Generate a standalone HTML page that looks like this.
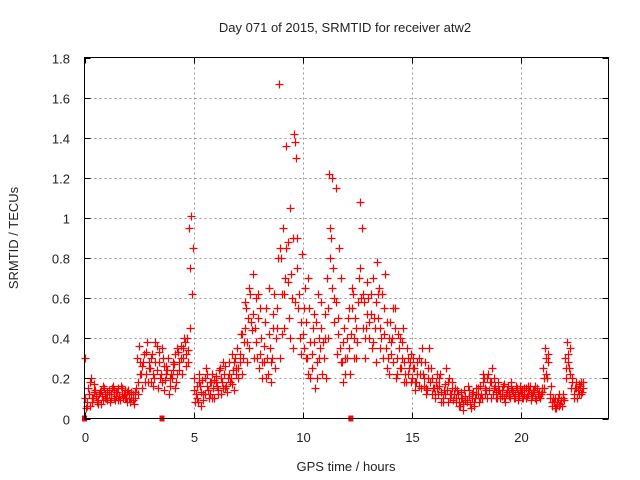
<!DOCTYPE html>
<html><head><meta charset="utf-8"><style>
html,body{margin:0;padding:0;background:#fff}
svg{display:block}
text{font-family:"Liberation Sans",sans-serif;font-size:13px;fill:#222}
</style></head><body>
<svg id="chart" width="640" height="480" viewBox="0 0 640 480" xmlns="http://www.w3.org/2000/svg">
<text x="345" y="32" text-anchor="middle">Day 071 of 2015, SRMTID for receiver atw2</text>
<text x="346" y="471" text-anchor="middle">GPS time / hours</text>
<text transform="translate(18,238) rotate(-90)" text-anchor="middle">SRMTID / TECUs</text>
<g id="grid"></g>
<g id="marks"></g>
<rect x="84.5" y="57.5" width="524" height="361" fill="none" stroke="#000" stroke-width="1"/>
<g id="ticks"></g>
</svg>
<script>
const xTicks = [0,5,10,15,20];
const yTicks = [0,0.2,0.4,0.6,0.8,1,1.2,1.4,1.6,1.8];
const yTickLabels = ["0","0.2","0.4","0.6","0.8","1","1.2","1.4","1.6","1.8"];
const seriesA = [.30,.08,.12,.20,.10,.14,.09,.13,.11,.15,
.10,.14,.12,.16,.09,.13,.11,.15,.12,.10,
.14,.08,.12,.10,.30,.36,.22,.28,.33,.18,
.25,.32,.20,.36,.28,.22,.30,.19,.24,.16,
.20,.27,.18,.33,.36,.30,.38,.40,.95,1.01,
.20,.12,.08,.16,.19,.12,.22,.10,.18,.15,
.21,.14,.25,.18,.22,.16,.28,.20,.24,.30,
.35,.28,.42,.38,.55,.50,.62,.72,.45,.30,
.25,.40,.28,.55,.22,.35,.30,.62,.45,1.67,
.80,.95,.70,.88,1.05,.60,1.42,1.30,.55,.48,
.42,.65,.30,.55,.25,.38,.48,.62,.35,.22,
.40,.70,1.22,.90,.75,1.15,.50,.35,.28,.45,
.30,.55,.42,.62,.50,.38,1.08,.95,.58,.45,
.60,.52,.70,.45,.78,.65,.40,.55,.35,.30,
.48,.40,.55,.30,.35,.25,.45,.22,.30,.28,
.20,.25,.18,.30,.15,.22,.28,.14,.35,.20,
.15,.18,.12,.22,.10,.17,.14,.20,.12,.09,
.08,.12,.06,.10,.14,.08,.11,.05,.13,.10,
.12,.16,.10,.20,.14,.22,.18,.12,.16,.10,
.14,.11,.17,.12,.16,.10,.14,.12,.15,.11,
.13,.10,.15,.12,.16,.11,.14,.09,.13,.12,
.25,.35,.20,.10,.06,.08,.05,.10,.07,.12,
.30,.38,.25,.15,.12,.18,.14,.16,.13];
const seriesB = [.05,.15,.06,.10,.17,.08,.12,.07,.16,.10,
.13,.08,.15,.10,.13,.09,.16,.10,.14,.08,
.10,.13,.07,.15,.12,.22,.26,.18,.38,.28,
.18,.22,.38,.15,.20,.35,.14,.26,.12,.22,
.28,.15,.35,.24,.22,.40,.32,.28,.75,.85,
.08,.16,.22,.06,.12,.25,.14,.18,.22,.10,
.16,.24,.12,.28,.15,.20,.18,.32,.14,.22,
.25,.42,.30,.58,.38,.65,.44,.30,.60,.50,
.55,.20,.48,.30,.65,.18,.52,.40,.80,.30,
.42,.62,1.36,.50,.72,.35,1.38,.90,.40,.82,
.55,.30,.70,.20,.45,.15,.28,.40,.58,.30,
.20,.55,.95,1.20,.60,.32,.85,.70,.18,.30,
.50,.22,.65,.40,.30,.70,.60,.45,.30,.68,
.40,.35,.50,.28,.62,.45,.30,.72,.25,.40,
.32,.55,.20,.42,.25,.38,.18,.35,.25,.18,
.30,.14,.28,.22,.35,.16,.12,.20,.25,.15,
.10,.22,.16,.08,.14,.25,.08,.12,.18,.15,
.14,.06,.10,.04,.09,.16,.07,.12,.08,.15,
.08,.12,.22,.15,.10,.18,.25,.15,.10,.14,
.10,.16,.08,.14,.12,.18,.10,.16,.09,.14,
.10,.15,.11,.14,.09,.13,.16,.12,.10,.15,
.15,.30,.28,.16,.10,.05,.08,.12,.06,.09,
.20,.28,.35,.20,.15,.10,.17,.12,.18];
const seriesC = [.10,.06,.18,.08,.13,.11,.07,.14,.09,.12,
.09,.12,.10,.14,.11,.15,.09,.12,.10,.13,
.12,.10,.09,.13,.18,.28,.15,.32,.22,.25,
.30,.16,.28,.24,.33,.18,.26,.22,.30,.20,
.24,.32,.22,.28,.30,.35,.26,.34,.45,.62,
.14,.10,.18,.13,.09,.20,.16,.12,.10,.19,
.18,.12,.20,.15,.26,.13,.22,.17,.28,.25,
.20,.32,.22,.45,.28,.35,.48,.52,.38,.62,
.32,.28,.36,.20,.42,.28,.45,.25,.55,.85,
.62,.45,.85,.68,.40,.90,.58,.75,.62,.32,
.35,.48,.22,.38,.32,.52,.20,.30,.45,.38,
.52,.40,.80,.65,.48,.58,.42,.28,.38,.22,
.40,.35,.55,.30,.45,.58,.75,.62,.40,.52,
.48,.62,.38,.58,.50,.35,.62,.42,.48,.22,
.38,.28,.45,.22,.40,.30,.28,.18,.22,.32,
.25,.18,.22,.16,.28,.20,.15,.25,.18,.12,
.12,.15,.20,.13,.08,.12,.18,.10,.15,.12,
.10,.08,.13,.07,.11,.09,.14,.10,.06,.12,
.15,.10,.18,.12,.20,.14,.10,.20,.13,.18,
.12,.14,.10,.13,.11,.15,.13,.10,.12,.16,
.14,.12,.10,.16,.12,.14,.10,.15,.11,.13,
.20,.22,.32,.12,.08,.10,.07,.06,.09,.10,
.25,.32,.22,.18,.10,.15,.12,.18,.15];
const zeroTimes = [0, 3.55, 12.2];
const sampleStep = 0.1;

const X0=84.5, X1=608.5, Y0=418.5, Y1=57.5;
function xs(t){return X0+(t/24)*(X1-X0);}
function ys(v){return Y0-(v/1.8)*(Y0-Y1);}
const NS="http://www.w3.org/2000/svg";
const grid=document.getElementById('grid'), ticks=document.getElementById('ticks'), marks=document.getElementById('marks');
function mk(tag,attrs,parent){const e=document.createElementNS(NS,tag);for(const k in attrs)e.setAttribute(k,attrs[k]);parent.appendChild(e);return e;}

xTicks.forEach((t,i)=>{
  const x=Math.round(xs(t))+0.5;
  if(i>0){const g=mk('line',{x1:x,x2:x,y1:Y1,y2:Y0,stroke:'#999','stroke-dasharray':'2,3'},grid);
  
  }
  mk('line',{x1:x,x2:x,y1:Y0,y2:Y0-6,stroke:'#000'},ticks);
  mk('line',{x1:x,x2:x,y1:Y1,y2:Y1+6,stroke:'#000'},ticks);
  const lb=mk('text',{x:x,y:442,'text-anchor':'middle'},ticks);
  lb.textContent=String(t);
  
  
});
yTicks.forEach((v,i)=>{
  const y=Math.round(ys(v))+0.5;
  if(i>0&&i<yTicks.length-1){const g=mk('line',{x1:X0,x2:X1,y1:y,y2:y,stroke:'#999','stroke-dasharray':'2,3'},grid);
  
  }
  mk('line',{x1:X0,x2:X0+6,y1:y,y2:y,stroke:'#000'},ticks);
  mk('line',{x1:X1,x2:X1-6,y1:y,y2:y,stroke:'#000'},ticks);
  const lb=mk('text',{x:70,y:y+5,'text-anchor':'end'},ticks);
  lb.textContent=yTickLabels[i];
  
  
});

function plus(t,v,name){
  const x=Math.round(xs(t))+0.5, y=Math.round(ys(v))+0.5;
  const p=mk('path',{d:`M${x-4} ${y}H${x+4}M${x} ${y-4}V${y+4}`,stroke:'#f00','stroke-width':1.2,fill:'none'},marks);
  
  
}
seriesA.forEach((v,i)=>plus(i*sampleStep,v,'point-a'));
seriesB.forEach((v,i)=>plus(i*sampleStep+0.05,v,'point-b'));
seriesC.forEach((v,i)=>plus(i*sampleStep+0.033,v,'point-c'));
zeroTimes.forEach(t=>{
  const r=mk('rect',{x:xs(t)-2.5,y:Y0-3,width:5,height:6,fill:'#f00'},marks);
  
  
});
</script>
</body></html>
